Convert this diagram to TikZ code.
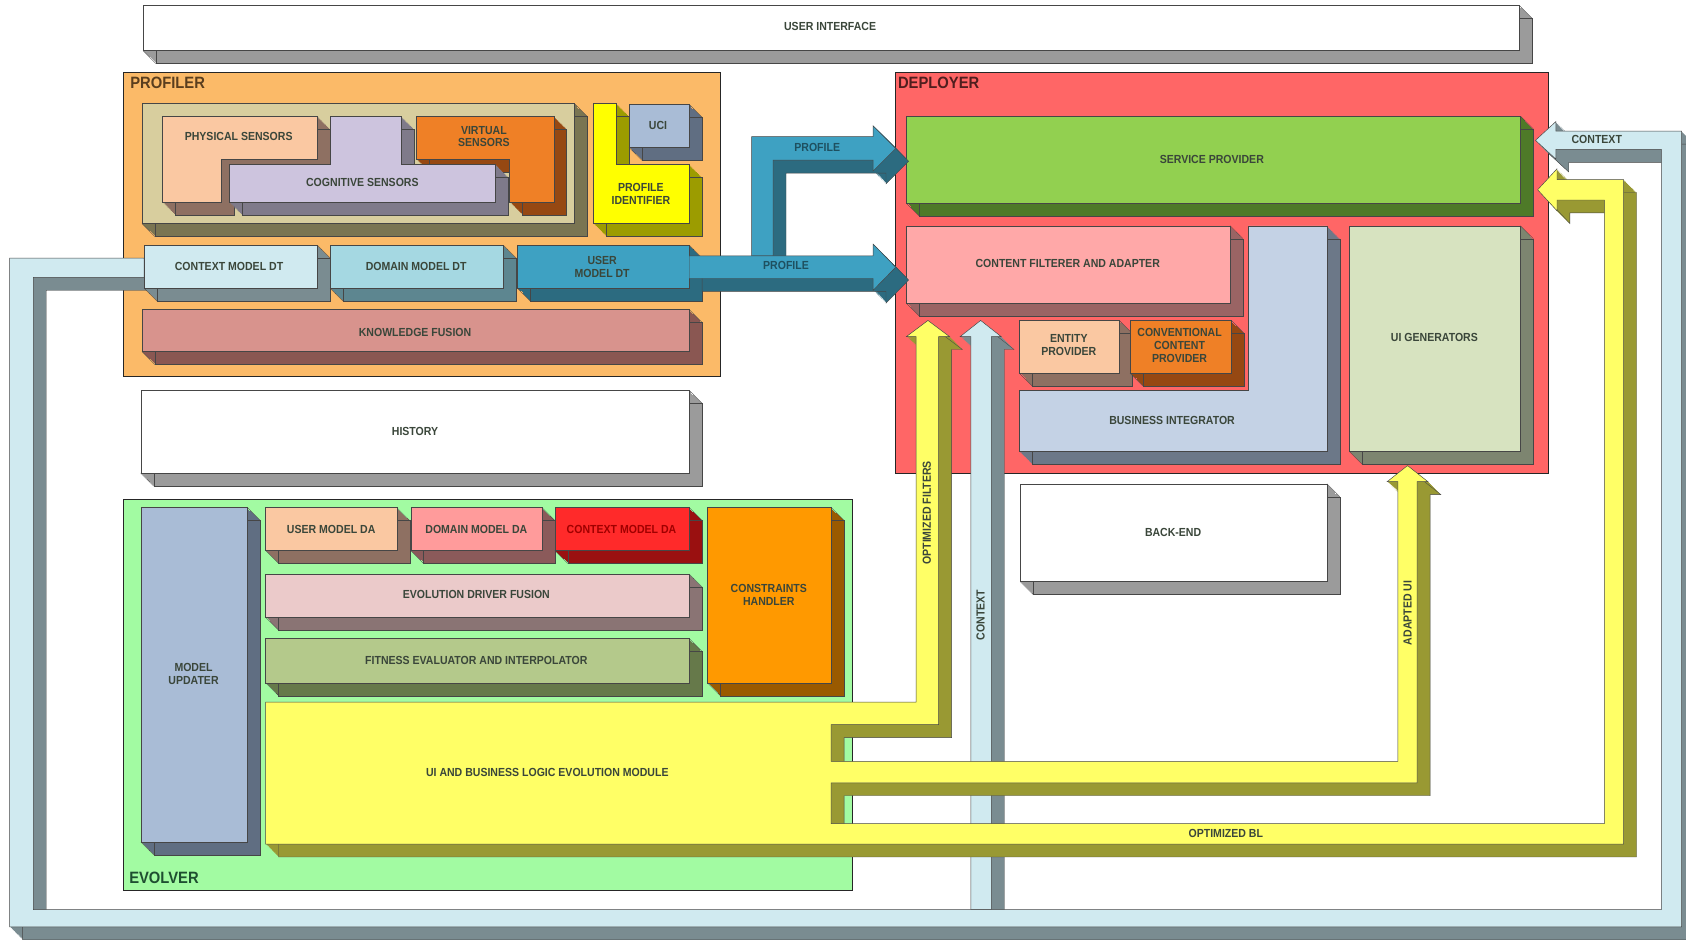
\documentclass[tikz,border=0pt]{standalone}
\usepackage{fontspec}
\setsansfont{Liberation Sans}[FakeStretch=0.9]
\definecolor{txt}{RGB}{58,70,58}
\definecolor{edge}{RGB}{70,70,70}
\definecolor{profbg}{RGB}{251,186,104}
\definecolor{depbg}{RGB}{255,102,102}
\definecolor{evobg}{RGB}{162,251,162}
\definecolor{khaki}{RGB}{216,206,158}\definecolor{khakis}{RGB}{122,117,82}
\definecolor{peach}{RGB}{250,200,162}\definecolor{peachs}{RGB}{142,112,98}
\definecolor{lilac}{RGB}{205,196,222}\definecolor{lilacs}{RGB}{127,122,138}
\definecolor{orng}{RGB}{239,128,38}\definecolor{orngs}{RGB}{150,72,18}
\definecolor{ylw}{RGB}{255,255,0}\definecolor{ylws}{RGB}{156,156,0}
\definecolor{steel}{RGB}{169,188,214}\definecolor{steels}{RGB}{96,110,130}
\definecolor{ice}{RGB}{208,234,240}\definecolor{ices}{RGB}{122,140,145}
\definecolor{aqua}{RGB}{165,216,226}\definecolor{aquas}{RGB}{93,134,144}
\definecolor{teal}{RGB}{62,161,194}\definecolor{teals}{RGB}{44,107,128}
\definecolor{rose}{RGB}{216,147,141}\definecolor{roses}{RGB}{138,87,82}
\definecolor{greys}{RGB}{155,155,155}
\definecolor{grass}{RGB}{146,208,80}\definecolor{grasss}{RGB}{78,122,40}
\definecolor{pink}{RGB}{255,168,168}\definecolor{pinks}{RGB}{154,100,100}
\definecolor{bluegr}{RGB}{196,210,229}\definecolor{bluegrs}{RGB}{108,120,136}
\definecolor{sage}{RGB}{215,227,192}\definecolor{sages}{RGB}{125,133,112}
\definecolor{salmon}{RGB}{255,155,155}\definecolor{salmons}{RGB}{139,90,90}
\definecolor{scarlet}{RGB}{255,42,42}\definecolor{scarlets}{RGB}{154,16,16}
\definecolor{blush}{RGB}{235,202,202}\definecolor{blushs}{RGB}{138,116,116}
\definecolor{olive}{RGB}{180,201,139}\definecolor{olives}{RGB}{102,121,74}
\definecolor{amber}{RGB}{255,153,0}\definecolor{ambers}{RGB}{154,90,0}
\definecolor{lemon}{RGB}{255,255,102}\definecolor{lemons}{RGB}{153,153,51}
% solid block: side colour, face colour, outline path
\newcommand{\solid}[3]{%
  \foreach \s in {1,...,12}{\fill[#1,shift={(\s,\s)}] #3;}
  \draw[edge,line width=0.3pt,shift={(12,12)}] #3;
  \filldraw[fill=#2,draw=edge,line width=0.4pt] #3;}
\newcommand{\slab}[6]{\solid{#5}{#6}{(#1,#2) rectangle (#3,#4)}%
  \draw[edge,line width=0.3pt] (#3,#2) -- ++(12,12) (#1,#4) -- ++(12,12);}

\begin{document}
\begin{tikzpicture}[x=0.3226mm,y=-0.3226mm,
   lbl/.style={font={\sffamily\bfseries\fontsize{10}{11}\selectfont},text=txt,align=center,inner sep=0pt},
   ttl/.style={font={\sffamily\bfseries\fontsize{14}{15}\selectfont},anchor=west,inner sep=0pt},
   frame/.style={draw=black!85,line width=0.6pt}]
  \fill[white] (0,0) rectangle (1568,875);
  \useasboundingbox (0,0) rectangle (1568,875);

  % user interface
  \slab{133}{5}{1413}{47}{greys}{white}
  \node[lbl] (ui) at (772,25) {USER INTERFACE};

  % containers
  \filldraw[frame,fill=profbg] (115,67) rectangle (670,350);
  \filldraw[frame,fill=depbg] (833,67) rectangle (1440,440);
  \filldraw[frame,fill=evobg] (115,464) rectangle (793,828);
  \node[ttl,text={rgb,255:red,90;green,62;blue,30}] (prof) at (121,77) {PROFILER};
  \node[ttl,text={rgb,255:red,80;green,30;blue,30}] (depl) at (835,77) {DEPLOYER};
  \node[ttl,text={rgb,255:red,30;green,78;blue,48}] (evol) at (120,816) {EVOLVER};

  % profiler
  \slab{132}{96}{534}{208}{khakis}{khaki}
  \solid{peachs}{peach}{(151,108) -- (295,108) -- (295,148) -- (206,148) -- (206,188) -- (151,188) -- cycle}
  \solid{orngs}{orng}{(387,108) -- (515,108) -- (515,188) -- (474,188) -- (474,148) -- (387,148) -- cycle}
  \solid{lilacs}{lilac}{(307,108) -- (373,108) -- (373,153) -- (461,153) -- (461,188) -- (213,188) -- (213,153) -- (307,153) -- cycle}
  \solid{ylws}{ylw}{(552,96) -- (573,96) -- (573,153) -- (641,153) -- (641,208) -- (552,208) -- cycle}
  \slab{585}{97}{641}{137}{steels}{steel}
  \slab{132}{288}{641}{327}{roses}{rose}
  \node[lbl] (phys) at (222,127) {PHYSICAL SENSORS};
  \node[lbl] (virt) at (450,127) {VIRTUAL\\SENSORS};
  \node[lbl] (cogn) at (337,170) {COGNITIVE SENSORS};
  \node[lbl] (pid) at (596,180) {PROFILE\\IDENTIFIER};
  \node[lbl] (uci) at (612,117) {UCI};
  \node[lbl] (kf) at (386,309) {KNOWLEDGE FUSION};

  % history
  \slab{131}{363}{641}{440}{greys}{white}
  \node[lbl] (hist) at (386,401) {HISTORY};

  % deployer
  \slab{843}{108}{1414}{189}{grasss}{grass}
  \slab{843}{210}{1144}{282}{pinks}{pink}
  \solid{bluegrs}{bluegr}{(1161,210) -- (1234,210) -- (1234,420) -- (948,420) -- (948,363) -- (1161,363) -- cycle}
  \slab{948}{298}{1041}{347}{peachs}{peach}
  \slab{1051}{298}{1145}{347}{orngs}{orng}
  \slab{1255}{210}{1414}{420}{sages}{sage}
  \node[lbl] (sp) at (1127,148) {SERVICE PROVIDER};
  \node[lbl] (cfa) at (993,245) {CONTENT FILTERER AND ADAPTER};
  \node[lbl] (ent) at (994,321) {ENTITY\\PROVIDER};
  \node[lbl] (conv) at (1097,321) {CONVENTIONAL\\CONTENT\\PROVIDER};
  \node[lbl] (bi) at (1090,391) {BUSINESS INTEGRATOR};
  \node[lbl] (uig) at (1334,314) {UI GENERATORS};

  % back-end
  \slab{949}{450}{1234}{541}{greys}{white}
  \node[lbl] (be) at (1091,495) {BACK-END};

  % evolver
  \slab{131}{472}{230}{783}{steels}{steel}
  \slab{247}{472}{369}{512}{peachs}{peach}
  \slab{382}{472}{504}{512}{salmons}{salmon}
  \slab{516}{472}{641}{512}{scarlets}{scarlet}
  \slab{247}{534}{641}{574}{blushs}{blush}
  \slab{247}{594}{641}{635}{olives}{olive}
  \slab{658}{472}{773}{635}{ambers}{amber}
  \node[lbl] (mu) at (180,627) {MODEL\\UPDATER};
  \node[lbl] (umda) at (308,492) {USER MODEL DA};
  \node[lbl] (dmda) at (443,492) {DOMAIN MODEL DA};
  \node[lbl,text={rgb,255:red,160;green,0;blue,0}] (cmda) at (578,492) {CONTEXT MODEL DA};
  \node[lbl] (edf) at (443,553) {EVOLUTION DRIVER FUSION};
  \node[lbl] (fei) at (443,614) {FITNESS EVALUATOR AND INTERPOLATOR};
  \node[lbl] (ch) at (715,553) {CONSTRAINTS\\HANDLER};

  % context loop
  \solid{ices}{ice}{(903,846) -- (903,313) -- (893,313) -- (912,298) -- (931,313) -- (922,313) -- (922,846) -- cycle}
  \solid{ices}{ice}{(134,240) -- (9,240) -- (9,862) -- (1564,862) -- (1564,122) -- (1447,122) -- (1447,113) -- (1428,130.5) -- (1447,148) -- (1447,139) -- (1545,139) -- (1545,846) -- (31,846) -- (31,258) -- (134,258) -- cycle}
  \node[lbl] (ctxa) at (1485,130) {CONTEXT};
  \node[lbl,rotate=90] (ctxb) at (912,572) {CONTEXT};

  % model data types
  \slab{134}{228}{295}{268}{ices}{ice}
  \slab{307}{228}{468}{268}{aquas}{aqua}
  \slab{481}{228}{641}{268}{teals}{teal}
  \node[lbl] (cmdt) at (213,248) {CONTEXT MODEL DT};
  \node[lbl] (dmdt) at (387,248) {DOMAIN MODEL DT};
  \node[lbl] (umdt) at (560,248) {USER\\MODEL DT};

  % profile arrows
  \solid{teals}{teal}{(699,238) -- (699,127) -- (812,127) -- (812,117) -- (833,138) -- (812,159) -- (812,149) -- (719,149) -- (719,238) -- cycle}
  \solid{teals}{teal}{(641,238) -- (812,238) -- (812,227) -- (833,248.5) -- (812,270) -- (812,259) -- (641,259) -- cycle}
  \node[lbl,text={rgb,255:red,30;green,80;blue,96}] (pra) at (760,137) {PROFILE};
  \node[lbl,text={rgb,255:red,30;green,80;blue,96}] (prb) at (731,247) {PROFILE};

  % evolution module and its outputs
  \solid{lemons}{lemon}{(247,653) -- (852,653) -- (852,313) -- (843,313) -- (863,298) -- (883,313) -- (873,313) -- (873,674) -- (773,674) -- (773,708) -- (1300,708) -- (1300,448) -- (1290,448) -- (1309,433) -- (1328,448) -- (1318,448) -- (1318,728) -- (773,728) -- (773,766) -- (1492,766) -- (1492,186) -- (1448,186) -- (1448,196) -- (1430,176.5) -- (1448,157) -- (1448,167) -- (1510,167) -- (1510,785) -- (247,785) -- cycle}
  \node[lbl] (ubl) at (509,718) {UI AND BUSINESS LOGIC EVOLUTION MODULE};
  \node[lbl,rotate=90] (optf) at (862,477) {OPTIMIZED FILTERS};
  \node[lbl,rotate=90] (adui) at (1309,570) {ADAPTED UI};
  \node[lbl] (optb) at (1140,775) {OPTIMIZED BL};
\end{tikzpicture}
\end{document}
